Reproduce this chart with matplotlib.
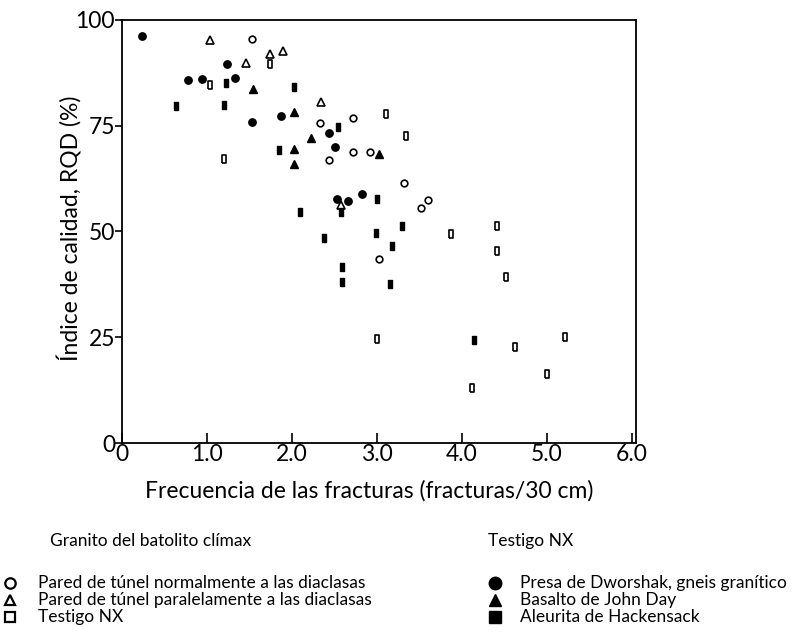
import matplotlib
matplotlib.use('Agg')
import matplotlib.pyplot as plt
from matplotlib.lines import Line2D

plt.rcParams['font.family'] = ['Lato', 'DejaVu Sans']

# Granito del batolito climax
open_circle_x = [1.53, 2.33, 2.72, 2.72, 2.92, 2.44, 3.32, 3.52, 3.60, 3.02]
open_circle_y = [95.6, 75.7, 76.8, 68.9, 68.9, 66.9, 61.4, 55.6, 57.4, 43.4]
open_tri_x = [1.04, 1.74, 1.89, 1.46, 2.34, 2.58]
open_tri_y = [95.3, 92.0, 92.7, 89.8, 80.5, 56.3]
open_sq_x = [1.74, 1.04, 1.20, 3.11, 3.34, 3.87, 4.41, 4.41, 4.52, 4.62, 5.21, 5.00, 4.12, 3.00]
open_sq_y = [89.6, 84.6, 67.1, 77.8, 72.6, 49.3, 51.3, 45.4, 39.2, 22.6, 25.1, 16.3, 12.9, 24.7]

# Testigo NX
fill_circle_x = [0.23, 1.24, 0.78, 0.94, 1.33, 1.53, 1.87, 2.44, 2.51, 2.53, 2.66, 2.82]
fill_circle_y = [96.3, 89.6, 85.7, 86.1, 86.2, 75.8, 77.2, 73.2, 70.0, 57.7, 57.3, 58.8]
fill_tri_x = [1.54, 2.02, 2.23, 2.02, 2.02, 3.02]
fill_tri_y = [83.8, 78.3, 72.0, 69.4, 66.0, 68.3]
fill_sq_x = [1.22, 2.03, 0.63, 1.20, 2.54, 1.85, 3.00, 2.58, 2.09, 3.30, 2.99, 2.38, 3.18, 2.59, 2.59, 3.16, 4.14]
fill_sq_y = [85.2, 84.2, 79.7, 80.0, 74.8, 69.3, 57.7, 54.7, 54.7, 51.3, 49.7, 48.5, 46.6, 41.5, 38.0, 37.5, 24.3]

x_ticks = [0, 1, 2, 3, 4, 5, 6]
x_labels = ['0', '1.0', '2.0', '3.0', '4.0', '5.0', '6.0']
y_ticks = [0, 25, 50, 75, 100]

left_title = 'Granito del batolito clímax'
left_labels = ['Pared de túnel normalmente a las diaclasas',
               'Pared de túnel paralelamente a las diaclasas',
               'Testigo NX']
right_title = 'Testigo NX'
right_labels = ['Presa de Dworshak, gneis granítico',
                'Basalto de John Day',
                'Aleurita de Hackensack']

# tall rectangle marker like in the scanned figure
rect = [(-0.55, -1), (0.55, -1), (0.55, 1), (-0.55, 1), (-0.55, -1)]

W, H = 798, 640
fig = plt.figure(figsize=(W / 100, H / 100), dpi=100)
ax = fig.add_axes([122 / W, 1 - 443 / H, 514 / W, 423 / H])

ax.plot(open_circle_x, open_circle_y, 'o', ms=4.8, mfc='white', mec='black', mew=1.2, ls='none')
ax.plot(open_tri_x, open_tri_y, '^', ms=5.3, mfc='white', mec='black', mew=1.2, ls='none')
ax.plot(open_sq_x, open_sq_y, marker=rect, ms=6.3, mfc='white', mec='black', mew=1.2, ls='none')
ax.plot(fill_circle_x, fill_circle_y, 'o', ms=5.3, color='black', ls='none')
ax.plot(fill_tri_x, fill_tri_y, '^', ms=5.8, color='black', ls='none')
ax.plot(fill_sq_x, fill_sq_y, marker=rect, ms=6.3, color='black', ls='none')

ax.set_xlim(0, 6.05)
ax.set_ylim(0, 100)
ax.set_xticks(x_ticks)
ax.set_xticklabels(x_labels)
ax.set_yticks(y_ticks)
ax.tick_params(axis='x', direction='in', length=7, width=1.2, labelsize=16.5, pad=1)
ax.tick_params(axis='y', direction='out', length=5, width=1.2, labelsize=16.5, pad=0)
for s in ax.spines.values():
    s.set_linewidth(1.3)

ax.set_xlabel('Frecuencia de las fracturas (fracturas/30 cm)', fontsize=16.5, ha='left', va='center')
ax.xaxis.set_label_coords((145 - 122) / 514, -(491 - 443) / 423)
ax.set_ylabel('Índice de calidad, RQD (%)', fontsize=16.5, va='center')
ax.yaxis.set_label_coords(-(122 - 70) / 514, (443 - 228) / 423)

# legend block below the chart
left_marks = [('o', 'white'), ('^', 'white'), ('s', 'white')]
right_marks = [('o', 'black'), ('^', 'black'), ('s', 'black')]
row_y = [583, 600, 617]
fs = 12.5

fig.text(50 / W, 1 - 541 / H, left_title, fontsize=fs, va='center')
fig.text(488 / W, 1 - 541 / H, right_title, fontsize=fs, va='center')
for (m, fc), lab, yy in zip(left_marks, left_labels, row_y):
    fig.add_artist(Line2D([10 / W], [1 - yy / H], marker=m, ms=7.5, mfc=fc, mec='black',
                          mew=1.6, ls='none', transform=fig.transFigure))
    fig.text(38 / W, 1 - yy / H, lab, fontsize=fs, va='center')
for (m, fc), lab, yy in zip(right_marks, right_labels, row_y):
    fig.add_artist(Line2D([495 / W], [1 - yy / H], marker=m, ms=9, mfc=fc, mec='black',
                          ls='none', transform=fig.transFigure))
    fig.text(520 / W, 1 - yy / H, lab, fontsize=fs, va='center')

fig.savefig('out.png', dpi=100)
